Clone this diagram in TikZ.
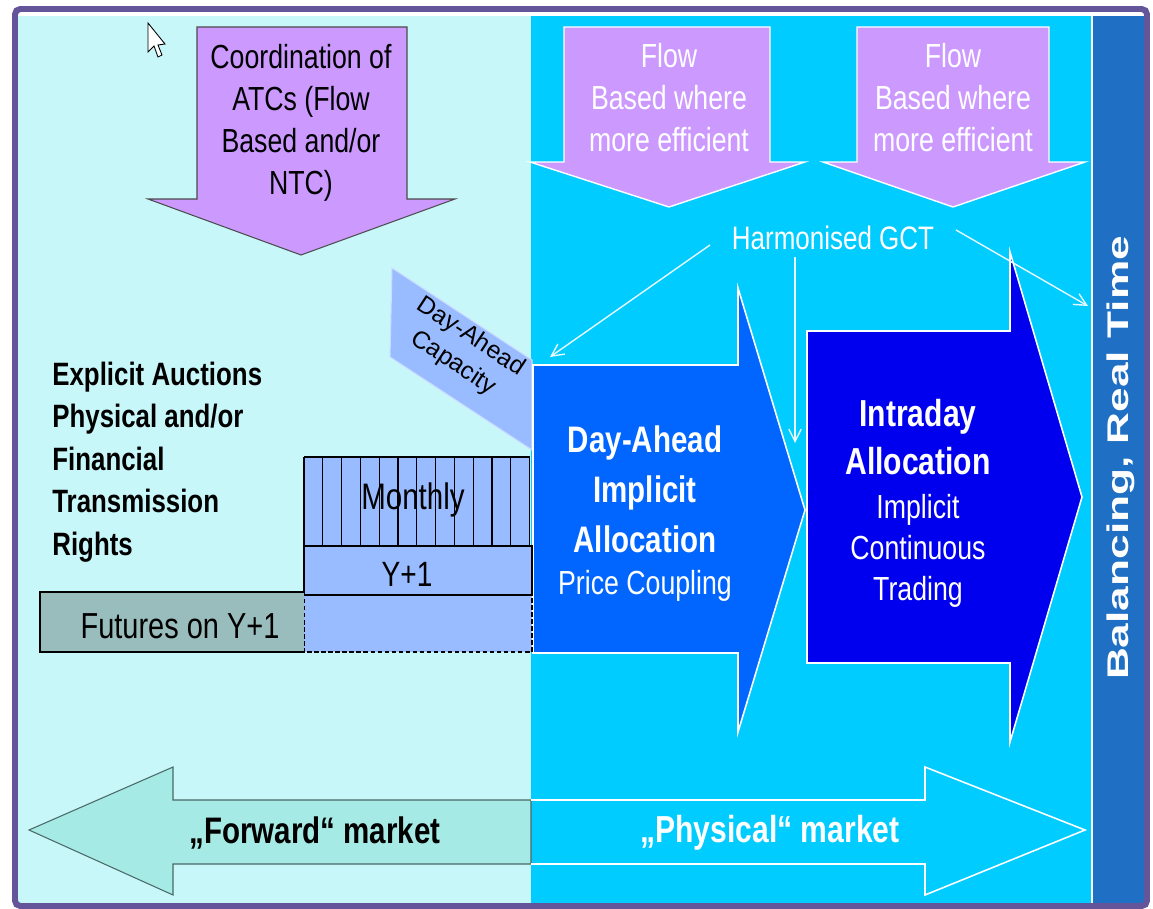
\documentclass[tikz,border=0pt]{standalone}
\usepackage{fontspec}
\setmainfont{Liberation Sans}[FakeStretch=0.8]
\newfontfamily\plainsans{Liberation Sans}
\usetikzlibrary{positioning,arrows.meta}

\definecolor{leftcyan}{HTML}{C8F7FA}
\definecolor{rightcyan}{HTML}{00CCFF}
\definecolor{barblue}{HTML}{1F70C4}
\definecolor{dablue}{HTML}{0066FF}
\definecolor{intrablue}{HTML}{0000EE}
\definecolor{atcpurple}{HTML}{CC99FF}
\definecolor{capblue}{HTML}{99BBFF}
\definecolor{futgray}{HTML}{99BDBD}
\definecolor{fwdteal}{HTML}{A5EAE5}
\definecolor{framepurple}{HTML}{64559A}
\definecolor{gctwhite}{HTML}{E6FAFF}

\newcommand\fsz[2]{\fontsize{#1}{#2}\selectfont}

\tikzset{
  atcarrow/.style={fill=atcpurple, draw=black!70, line width=0.6pt},
  flowarrow/.style={fill=atcpurple, draw=white, line width=0.8pt},
  blockarrow/.style={draw=white, line width=0.9pt},
  gctline/.style={draw=gctwhite, line width=0.8pt, -{Straight Barb[length=7pt,width=7pt]}},
  boxline/.style={draw=black, line width=0.6pt},
}

\begin{document}
\begin{tikzpicture}
    [x=0.02cm, y=-0.02cm, every node/.style={inner sep=0pt}, node distance=10pt]
    \useasboundingbox (0,0) rectangle (1153,909);
    % panels
    \fill[white] (0,0) rectangle (1153,909);
    \fill[leftcyan] (18,16) rectangle (531,903);
    \fill[rightcyan] (531,16) rectangle (1092,903);
    \fill[barblue] (1092,16) rectangle (1144,903);
    \draw[white, line width=0.8pt] (1092,16) -- (1092,903);

    % capacity calculation arrows
    \draw[atcarrow] (197,27) -- (407,27) -- (407,199) -- (455,199) -- (301,255)
        -- (148,199) -- (197,199) -- cycle;
    \draw[flowarrow] (564,27) -- (770,27) -- (770,162) -- (805,162) -- (669,207)
        -- (530,162) -- (564,162) -- cycle;
    \draw[flowarrow] (857,27) -- (1049,27) -- (1049,162) -- (1085,162) -- (953,207)
        -- (823,162) -- (857,162) -- cycle;

    % day-ahead capacity and explicit products
    \draw[fill=capblue, draw=white!50!capblue, line width=0.6pt]
        (392,268) -- (532,360) -- (532,450) -- (390,357) -- cycle;
    \draw[fill=dablue, blockarrow] (533,365) -- (738,365) -- (738,288) -- (805,510)
        -- (738,732) -- (738,653) -- (533,653) -- cycle;
    \draw[fill=intrablue, blockarrow] (807,331) -- (1010,331) -- (1010,252) -- (1082,497)
        -- (1010,742) -- (1010,663) -- (807,663) -- cycle;

    \fill[capblue] (304,457) rectangle (530,546);
    \foreach \k in {0,...,12}
        \draw[boxline] ({304+\k*18.8},457) -- ({304+\k*18.8},546);
    \draw[boxline] (304,457) -- (530,457);
    \draw[boxline, fill=capblue, dash pattern=on 2.5pt off 1.5pt] (304,592) rectangle (532,652);
    \draw[boxline, fill=capblue] (304,546) rectangle (532,595);
    \fill[futgray] (40,592) rectangle (304,652);
    \draw[boxline] (304,592) -- (40,592) -- (40,652) -- (304,652);

    % market arrows
    \draw[fill=fwdteal, draw=black!55!fwdteal, line width=0.6pt] (531,800) -- (173,800)
        -- (173,767) -- (29,830) -- (173,895) -- (173,864) -- (531,864) -- cycle;
    \draw[blockarrow] (531,800) -- (925,800) -- (925,767) -- (1085,830) -- (925,895)
        -- (925,864) -- (531,864);

    % texts
    \node (atc) at (301,123) [font=\fsz{19}{23.9}, align=center]
        {Coordination of\\ATCs (Flow\\Based and/or\\NTC)};
    \node (flowa) at (669,98) [font=\fsz{19}{23.9}, align=center, text=white]
        {Flow\\Based where\\more efficient};
    \node (flowb) at (953,98) [font=\fsz{19}{23.9}, align=center, text=white]
        {Flow\\Based where\\more efficient};
    \node (gct) at (833,238) [font=\fsz{18.5}{22}, text=white, inner sep=2pt] {Harmonised GCT};
    \node (expl) at (52,462) [anchor=west, font=\bfseries\fsz{18.4}{24.2}, align=left]
        {Explicit Auctions\\Physical and/or\\Financial\\Transmission\\Rights};
    \node (dacap) at (462,350) [rotate=-33.5, align=center, font=\plainsans\fsz{14}{17.9}]
        {Day-Ahead\\Capacity};
    \node (monthly) at (413,500) [font=\fsz{21}{25}] {Monthly};
    \node (yone) at (407,574) [font=\fsz{20}{24}] {Y+1};
    \node (futures) at (180,626) [font=\fsz{20.6}{24}] {Futures on Y+1};
    \node (daia) at (645,489) [font=\bfseries\fsz{21}{28.4}, align=center, text=white]
        {Day-Ahead\\Implicit\\Allocation};
    \node (pcoup) [below=9.7pt of daia, font=\fsz{19}{23.3}, text=white] {Price Coupling};
    \node (intra) at (918,437) [font=\bfseries\fsz{21.4}{27.3}, align=center, text=white]
        {Intraday\\Allocation};
    \node (intrait) [below=10.8pt of intra, font=\fsz{19}{23.3}, align=center, text=white]
        {Implicit\\Continuous\\Trading};
    \node (balance) at (1121,458) [rotate=90, text=white, font=\plainsans\bfseries\fsz{17}{20}]
        {\scalebox{1.48}[1]{Balancing, Real Time}};
    \node (fwd) at (315,833) [font=\bfseries\fsz{21}{25}] {„Forward“ market};
    \node (phys) at (770,833) [font=\bfseries\fsz{21.4}{25}, text=white] {„Physical“ market};

    % gate closure arrows
    \coordinate (gctda) at (550,357);
    \coordinate (gctid) at (795,443);
    \coordinate (gctbal) at (1088,306);
    \draw[gctline] ([shift={(-18,7)}]gct.west) -- (gctda);
    \draw[gctline] ([shift={(-38,3)}]gct.south) -- (gctid);
    \draw[gctline] ([shift={(18,-8)}]gct.east) -- (gctbal);

    % pointer
    \draw[fill=white, line width=0.5pt] (148,23) -- (148,52) -- (154,46) -- (158,57)
        -- (162,55) -- (158,45) -- (165,44) -- cycle;

    \draw[framepurple, line width=3.4pt, rounded corners=3pt] (15,9) rectangle (1147,906);
\end{tikzpicture}
\end{document}
